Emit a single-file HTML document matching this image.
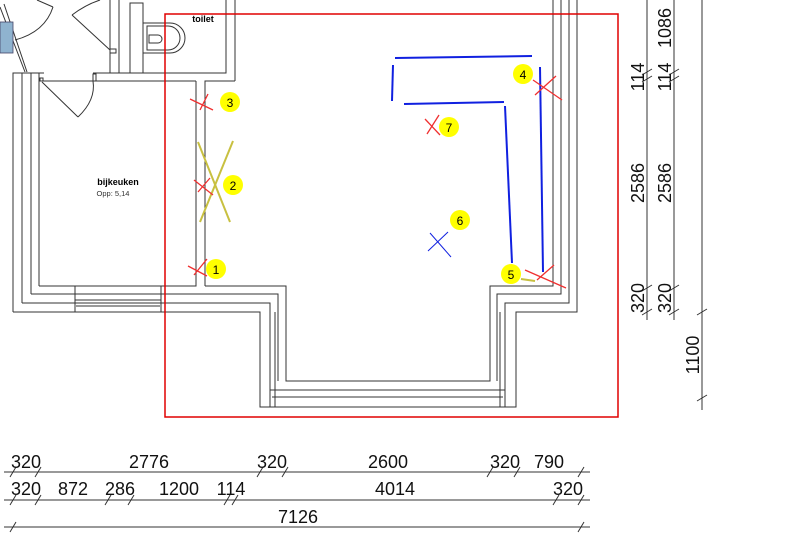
<!DOCTYPE html>
<html><head><meta charset="utf-8"><style>
html,body{margin:0;padding:0;background:#fff;}
svg{display:block;font-family:"Liberation Sans",sans-serif;}
</style></head><body>
<svg width="800" height="553" viewBox="0 0 800 553" xmlns="http://www.w3.org/2000/svg">
<g fill="none" stroke="#333" stroke-width="1">
<!-- top-left doors -->
<line x1="0" y1="7" x2="25" y2="72"/><line x1="4" y1="4" x2="27" y2="72"/>
<path d="M15 40 Q45 32 53 7"/><line x1="53" y1="7" x2="37" y2="0"/>
<path d="M72 15 Q85 5 100 0"/><line x1="72" y1="15" x2="110" y2="50"/>
<rect x="110" y="49" width="6" height="4"/>
<!-- toilet walls -->
<line x1="110" y1="0" x2="110" y2="73"/><line x1="119" y1="0" x2="119" y2="73"/>
<line x1="110" y1="73" x2="119" y2="73"/>
<polyline points="130,73 130,3 143,3 143,73"/>
<line x1="130" y1="73" x2="143" y2="73"/>
<path d="M143 23 H170 A15 15 0 0 1 170 53 H143 Z"/>
<path d="M147 26 H168 A12 12 0 0 1 168 50 H147 Z"/>
<path d="M149 35 H158 A4 4 0 0 1 158 43 H149 Z"/>
<polyline points="143,73 226,73 226,0"/>
<line x1="235" y1="0" x2="235" y2="81"/>
<!-- bijkeuken walls -->
<polyline points="13,312 13,73 44,73"/>
<line x1="22" y1="73" x2="22" y2="303"/><line x1="31" y1="73" x2="31" y2="294"/>
<line x1="39" y1="73" x2="39" y2="286"/>
<line x1="39" y1="81" x2="196" y2="81"/>
<line x1="93" y1="73" x2="226" y2="73"/>
<rect x="40" y="78" width="3" height="3"/><rect x="93" y="74" width="3" height="7"/>
<line x1="42" y1="82" x2="78" y2="117"/><path d="M78 117 Q96 100 93 81"/>
<polyline points="39,286 196,286 196,81"/>
<polyline points="205,286 205,81 235,81"/>
<!-- bottom outlines -->
<polyline points="205,286 286,286 286,381 490,381 490,286 553,286 553,0"/>
<polyline points="31,294 278,294 278,381"/>
<polyline points="22,303 270,303 270,407"/>
<polyline points="13,312 260,312 260,407 516,407 516,312 577,312 577,0"/>
<polyline points="497,381 497,294 561,294 561,0"/>
<polyline points="505,407 505,303 569,303 569,0"/>
<line x1="270" y1="390" x2="505" y2="390"/><line x1="272" y1="397" x2="503" y2="397"/>
<line x1="275" y1="312" x2="275" y2="407"/><line x1="500" y1="312" x2="500" y2="407"/>
<!-- bijkeuken window -->
<line x1="75" y1="286" x2="75" y2="312"/><line x1="161" y1="286" x2="161" y2="312"/>
<line x1="75" y1="300" x2="161" y2="300"/><line x1="76" y1="306" x2="160" y2="306"/>
</g>
<rect x="0" y="22" width="13" height="31" fill="#8fb3cf" stroke="#446" stroke-width="0.8"/>
<!-- red frame -->
<rect x="165" y="14" width="453" height="403" fill="none" stroke="#e00000" stroke-width="1.5"/>
<!-- blue lines -->
<g stroke="#1020e0" stroke-width="2" fill="none">
<line x1="395" y1="58" x2="532" y2="56"/><line x1="393" y1="65" x2="392" y2="101"/>
<line x1="404" y1="104" x2="504" y2="102"/><line x1="505" y1="106" x2="512" y2="263"/>
<line x1="540" y1="67" x2="543" y2="272"/>
<line x1="430" y1="233" x2="451" y2="257" stroke="#1020e0" stroke-width="1"/>
<line x1="448" y1="232" x2="428" y2="251" stroke="#1020e0" stroke-width="1"/>
</g>
<!-- yellow olive lines -->
<g stroke="#c8c040" stroke-width="2">
<line x1="198" y1="142" x2="230" y2="222"/><line x1="233" y1="141" x2="200" y2="222"/>
<line x1="521" y1="279" x2="535" y2="281"/>
</g>
<!-- red X -->
<g stroke="#f03030" stroke-width="1.3">
<line x1="188" y1="266" x2="207" y2="276"/><line x1="194" y1="275" x2="207" y2="259"/>
<line x1="190" y1="99" x2="213" y2="110"/><line x1="200" y1="110" x2="208" y2="94"/>
<line x1="194" y1="180" x2="213" y2="195"/><line x1="198" y1="192" x2="210" y2="178"/>
<line x1="533" y1="80" x2="562" y2="100"/><line x1="556" y1="76" x2="535" y2="95"/>
<line x1="525" y1="270" x2="566" y2="288"/><line x1="554" y1="265" x2="537" y2="280"/>
<line x1="425" y1="119" x2="440" y2="135"/><line x1="439" y1="115" x2="427" y2="134"/>
</g>
<!-- markers -->
<g fill="#ffff00">
<circle cx="216" cy="269" r="10"/><circle cx="233" cy="185" r="10"/><circle cx="230" cy="102" r="10"/>
<circle cx="523" cy="74" r="10"/><circle cx="511" cy="274" r="10"/><circle cx="460" cy="220" r="10"/><circle cx="449" cy="127" r="10"/>
</g>
<g font-size="12" text-anchor="middle" fill="#000">
<text x="216" y="274">1</text><text x="233" y="190">2</text><text x="230" y="107">3</text>
<text x="523" y="79">4</text><text x="511" y="279">5</text><text x="460" y="225">6</text><text x="449" y="132">7</text>
</g>
<text x="203" y="22" font-size="9" font-weight="bold" text-anchor="middle">toilet</text>
<text x="118" y="185" font-size="9" font-weight="bold" text-anchor="middle">bijkeuken</text>
<text x="113" y="196" font-size="7.5" text-anchor="middle" fill="#333">Opp: 5,14</text>
<!-- right dims -->
<g stroke="#333" stroke-width="1">
<line x1="647" y1="0" x2="647" y2="320"/><line x1="674" y1="0" x2="674" y2="320"/><line x1="702" y1="0" x2="702" y2="410"/>
<path d="M642 75 l10 -6 M642 82 l10 -6 M642 291 l10 -6 M642 315 l10 -6 M669 75 l10 -6 M669 82 l10 -6 M669 291 l10 -6 M669 315 l10 -6 M697 315 l10 -6 M697 401 l10 -6"/>
</g>
<g font-size="18" text-anchor="middle" fill="#111">
<text transform="translate(644,77) rotate(-90)">114</text>
<text transform="translate(644,183) rotate(-90)">2586</text>
<text transform="translate(644,298) rotate(-90)">320</text>
<text transform="translate(671,28) rotate(-90)">1086</text>
<text transform="translate(671,77) rotate(-90)">114</text>
<text transform="translate(671,183) rotate(-90)">2586</text>
<text transform="translate(671,298) rotate(-90)">320</text>
<text transform="translate(699,355) rotate(-90)">1100</text>
</g>
<!-- bottom dims -->
<g stroke="#333" stroke-width="1">
<line x1="4" y1="472" x2="590" y2="472"/><line x1="4" y1="500" x2="590" y2="500"/><line x1="4" y1="527" x2="590" y2="527"/>
<path d="M10 477 l6 -10 M35 477 l6 -10 M257 477 l6 -10 M282 477 l6 -10 M487 477 l6 -10 M514 477 l6 -10 M578 477 l6 -10
M10 505 l6 -10 M35 505 l6 -10 M105 505 l6 -10 M128 505 l6 -10 M224 505 l6 -10 M232 505 l6 -10 M553 505 l6 -10 M578 505 l6 -10
M10 532 l6 -10 M578 532 l6 -10"/>
</g>
<g font-size="18" text-anchor="middle" fill="#111">
<text x="26" y="468">320</text><text x="149" y="468">2776</text><text x="272" y="468">320</text>
<text x="388" y="468">2600</text><text x="505" y="468">320</text><text x="549" y="468">790</text>
<text x="26" y="495">320</text><text x="73" y="495">872</text><text x="120" y="495">286</text>
<text x="179" y="495">1200</text><text x="231" y="495">114</text><text x="395" y="495">4014</text><text x="568" y="495">320</text>
<text x="298" y="523">7126</text>
</g>
</svg>
</body></html>
